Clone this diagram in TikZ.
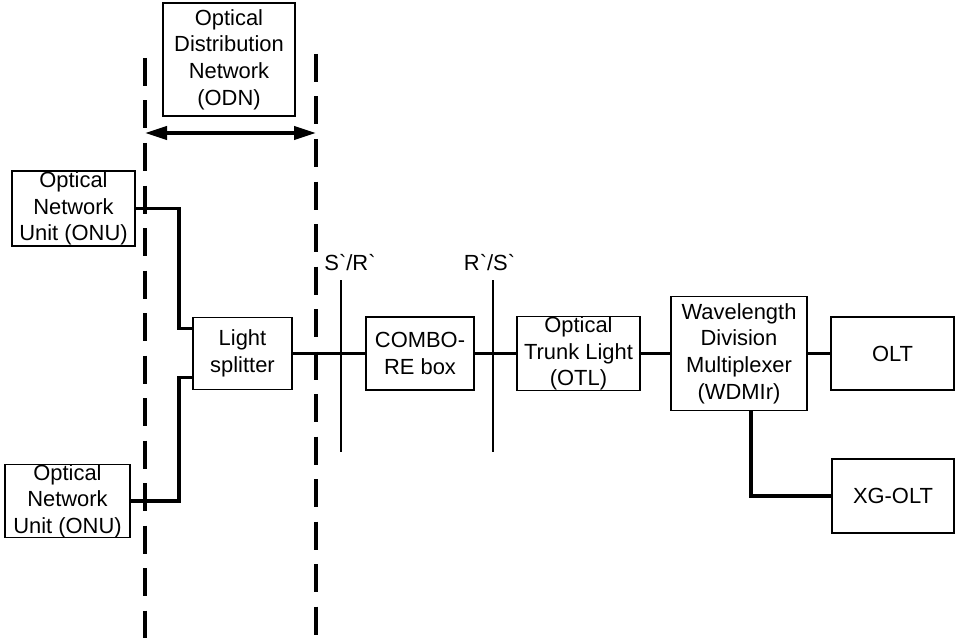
\documentclass[tikz,border=0pt]{standalone}
\usepackage{fontspec}
\setmainfont{Liberation Sans}
\usetikzlibrary{arrows.meta}

\tikzset{
  box/.style={draw, line width=1.3bp, align=center, inner sep=0pt},
  link/.style={line width=3.8bp},
  odnline/.style={line width=4bp, dash pattern=on 28bp off 14.5bp},
  refline/.style={line width=1.3bp},
}

\begin{document}
\begin{tikzpicture}[x=1bp, y=-1bp, font=\fontsize{22}{26.7}\selectfont]
        \useasboundingbox (0,0) rectangle (956,638);

        % ODN limits
        \coordinate (odnL1) at (145,58);
        \coordinate (odnL2) at (145,638);
        \coordinate (odnR1) at (316,54);
        \coordinate (odnR2) at (316,638);
        \draw[odnline] (odnL1) -- (odnL2);
        \draw[odnline] (odnR1) -- (odnR2);

        \node[box, minimum width=132bp, minimum height=113bp] (odn) at (229,59.5) {Optical\\Distribution\\Network\\(ODN)};
        \coordinate (arrL) at (145,133);
        \coordinate (arrR) at (316,133);
        \draw[link, {Triangle[length=22bp,width=13bp]}-{Triangle[length=22bp,width=13bp]}] (arrL) -- (arrR);

        % Boxes
        \node[box, minimum width=123bp, minimum height=75bp] (onu1) at (73.5,208.5) {Optical\\Network\\Unit (ONU)};
        \node[box, minimum width=125bp, minimum height=72bp] (onu2) at (67.5,501) {Optical\\Network\\Unit (ONU)};
        \node[box, minimum width=99bp, minimum height=72bp] (split) at (242.5,353.5) {Light\\splitter};
        \node[box, minimum width=108bp, minimum height=73bp] (combo) at (420,353.5) {COMBO-\\RE box};
        \node[box, minimum width=123bp, minimum height=73bp] (otl) at (578.5,353.5) {Optical\\Trunk Light\\(OTL)};
        \node[box, minimum width=136bp, minimum height=114bp] (wdm) at (739,353.5) {Wavelength\\Division\\Multiplexer\\(WDMIr)};
        \node[box, minimum width=123bp, minimum height=73bp] (olt) at (892.5,353.5) {OLT};
        \node[box, minimum width=122bp, minimum height=74bp] (xgolt) at (893,496) {XG-OLT};

        % Reference points
        \node[anchor=base] (srlab) at (350,271) {S\textasciigrave/R\textasciigrave};
        \node[anchor=base] (rslab) at (489.5,271) {R\textasciigrave/S\textasciigrave};
        \coordinate (sr1) at (341,280);
        \coordinate (sr2) at (341,452);
        \coordinate (rs1) at (493,280);
        \coordinate (rs2) at (493,452);
        \draw[refline] (sr1) -- (sr2);
        \draw[refline] (rs1) -- (rs2);

        % Connections
        \draw[link] (onu1.east) -- ++(43,0) |- ([yshift=25bp]split.west);
        \draw[link] (onu2.east) -- ++(48,0) |- ([yshift=-24bp]split.west);
        \draw[link] (split) -- (combo);
        \draw[link] (combo) -- (otl);
        \draw[link] (otl) -- (wdm);
        \draw[link] (wdm) -- (olt);
        \draw[link] ([xshift=12bp]wdm.south) |- (xgolt.west);
    \end{tikzpicture}
\end{document}
